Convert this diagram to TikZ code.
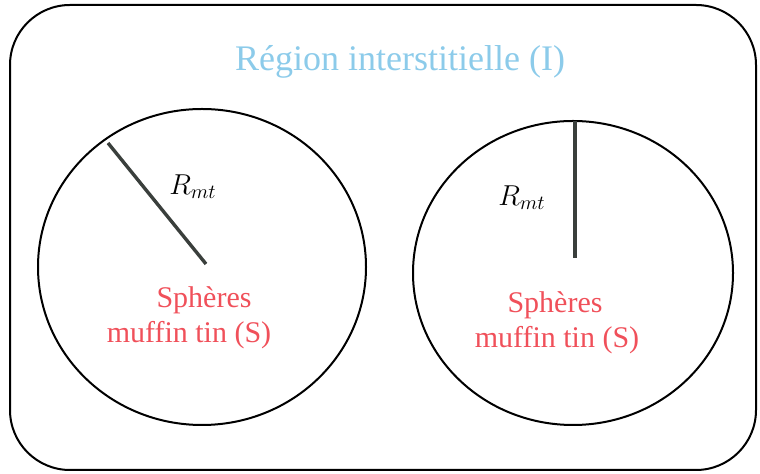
\documentclass[tikz,border=0pt]{standalone}
\usepackage{fontspec}
\setmainfont{Liberation Serif}
\usepackage{tikz}
\definecolor{regioncolor}{HTML}{8CCBEA}
\definecolor{spherecolor}{HTML}{F0505A}
\definecolor{radiuscolor}{HTML}{3A3F3C}

\begin{document}
\begin{tikzpicture}[x=0.5pt, y=-0.5pt,
    sphere/.style={line width=1pt},
    radius/.style={line width=1.7pt, color=radiuscolor},
    mtlabel/.style={color=spherecolor, font=\fontsize{15}{18}\selectfont},
    rlabel/.style={font=\fontsize{14.5}{17}\selectfont}]
    \useasboundingbox (0,0) rectangle (760,474);

    % Interstitial region (I)
    \draw[line width=1pt, rounded corners=30pt] (10,5) rectangle (756,470);
    \node[color=regioncolor, font=\fontsize{18}{21}\selectfont] (I) at (400,62) {Région interstitielle (I)};

    % Muffin tin spheres (S)
    \coordinate (O1) at (202,267);
    \coordinate (O2) at (573,273);
    \draw[sphere] (O1) ellipse [x radius=82pt, y radius=79pt];
    \draw[sphere] (O2) ellipse [x radius=80pt, y radius=76pt];

    % Radii
    \coordinate (C1) at (206,264);
    \coordinate (E1) at (108,143);
    \coordinate (C2) at (575,258);
    \coordinate (E2) at (575,121);
    \draw[radius] (C1) -- (E1);
    \draw[radius] (C2) -- (E2);
    \node[rlabel] (R1) at (193,187) {$R_{mt}$};
    \node[rlabel] (R2) at (522,198) {$R_{mt}$};

    \node[mtlabel] (S1a) at (204,300) {Sphères};
    \node[mtlabel] (S1b) at (189,335) {muffin tin (S)};
    \node[mtlabel] (S2a) at (555,305) {Sphères};
    \node[mtlabel] (S2b) at (557,340) {muffin tin (S)};
\end{tikzpicture}
\end{document}
